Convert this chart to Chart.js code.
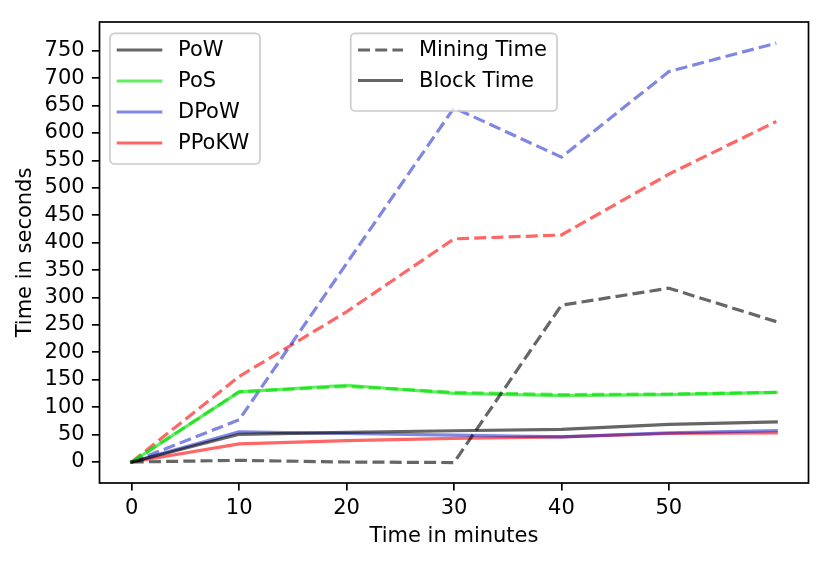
<!DOCTYPE html>
<html><head><meta charset="utf-8">
<script src="https://cdn.jsdelivr.net/npm/chart.js@4"></script>
<style>html,body{margin:0;padding:0;background:#fff}#wrap{width:831px;height:563px;position:relative}</style>
</head><body><div id="wrap"><canvas id="c" width="831" height="563"></canvas></div>
<script>
// ---- data ----
const xValues = [0, 10, 20, 30, 40, 50, 60];
const xTickValues = [0, 10, 20, 30, 40, 50];
const yTickValues = [0, 50, 100, 150, 200, 250, 300, 350, 400, 450, 500, 550, 600, 650, 700, 750];
const seriesNames = ['PoW', 'PoS', 'DPoW', 'PPoKW'];
const styleNames = ['Mining Time', 'Block Time'];
const powMining   = [0, 3, 0, -1, 286, 317, 256];
const powBlock    = [0, 50.5, 54, 57, 59.6, 68.7, 73];
const posMining   = [0, 128, 138, 127, 123, 124, 127];
const posBlock    = [0, 128, 140, 125, 121, 123, 127];
const dpowMining  = [0, 77, 362, 646, 556, 712, 764];
const dpowBlock   = [0, 55, 52, 49, 46, 53, 57];
const ppokwMining = [0, 156, 274, 407, 414, 525, 621];
const ppokwBlock  = [0, 33, 39, 43, 46, 52, 53];
const xTitle = 'Time in minutes';
const yTitle = 'Time in seconds';

// ---- styles ----
const FONT = '"DejaVu Sans", sans-serif';
const FS = 21;
const colors = ['rgba(0,0,0,0.6)', 'rgba(0,225,0,0.62)', 'rgba(0,15,200,0.5)', 'rgba(255,0,0,0.6)'];
const DASH = [12, 5.2];
const LW = 3.2;

const mining = [powMining, posMining, dpowMining, ppokwMining];
const block = [powBlock, posBlock, dpowBlock, ppokwBlock];
const toPts = arr => arr.map((v, i) => ({x: xValues[i], y: v}));

const datasets = [];
seriesNames.forEach((n, i) => {
  datasets.push({label: n + ' ' + styleNames[0], data: toPts(mining[i]), borderColor: colors[i],
    borderWidth: LW, borderDash: DASH, borderCapStyle: 'butt', borderJoinStyle: 'round', pointRadius: 0, tension: 0, fill: false});
  datasets.push({label: n + ' ' + styleNames[1], data: toPts(block[i]), borderColor: colors[i],
    borderWidth: LW, borderCapStyle: 'square', borderJoinStyle: 'round', pointRadius: 0, tension: 0, fill: false});
});

const frameAndLegend = {
  id: 'frameAndLegend',
  afterDatasetsDraw(chart) {
    const ctx = chart.ctx, a = chart.chartArea;
    ctx.save();
    ctx.strokeStyle = '#000'; ctx.lineWidth = 1.7;
    ctx.strokeRect(a.left, a.top, a.right - a.left, a.bottom - a.top);
    ctx.restore();
  },
  afterDraw(chart) {
    const ctx = chart.ctx, a = chart.chartArea;
    function box(x0, y0, x1, y1) {
      ctx.save(); ctx.beginPath(); ctx.roundRect(x0, y0, x1 - x0, y1 - y0, 4.5);
      ctx.fillStyle = 'rgba(255,255,255,0.8)'; ctx.fill();
      ctx.strokeStyle = '#cccccc'; ctx.lineWidth = 1.7; ctx.stroke(); ctx.restore();
    }
    function seg(x0, x1, y, col, dash) {
      ctx.save(); ctx.beginPath(); ctx.setLineDash(dash); ctx.lineCap = dash.length ? 'butt' : 'butt';
      ctx.moveTo(x0, y); ctx.lineTo(x1, y); ctx.strokeStyle = col; ctx.lineWidth = LW; ctx.stroke(); ctx.restore();
    }
    function txt(s, x, y) {
      ctx.save(); ctx.font = FS + 'px ' + FONT; ctx.fillStyle = '#000';
      ctx.textBaseline = 'middle'; ctx.textAlign = 'left'; ctx.fillText(s, x, y); ctx.restore();
    }
    const L = a.left, T = a.top;
    box(L + 10.5, T + 11.3, L + 160.5, T + 142);
    seriesNames.forEach((n, i) => {
      const y = T + 28 + i * 31;
      seg(L + 17.2, L + 62.8, y, colors[i], []);
      txt(n, L + 78.5, y + 1);
    });
    box(L + 251.2, T + 11.3, L + 457.5, T + 89);
    styleNames.forEach((n, i) => {
      const y = T + 28 + i * 30.5;
      seg(L + 258.5, L + 303.5, y, colors[0], i === 0 ? DASH : []);
      txt(n, L + 319.5, y + 1);
    });
  }
};

new Chart(document.getElementById('c'), {
  type: 'line',
  data: {datasets},
  options: {
    responsive: false, animation: false, devicePixelRatio: 1,
    layout: {padding: {top: 22, right: 22.5, left: 0, bottom: 0}},
    plugins: {legend: {display: false}, tooltip: {enabled: false}},
    scales: {
      x: {
        type: 'linear', min: -3, max: 63,
        afterBuildTicks: s => { s.ticks = xTickValues.map(v => ({value: v})); },
        afterFit: s => { s.height = 80; },
        grid: {drawOnChartArea: false, drawTicks: true, tickLength: 7.6, tickWidth: 1.7, lineWidth: 1.7, tickColor: '#000', color: '#000'},
        border: {display: false},
        ticks: {color: '#000', font: {family: FONT, size: FS}, padding: 5, maxRotation: 0, autoSkip: false},
        title: {display: true, text: xTitle, color: '#000', font: {family: FONT, size: FS}, padding: {top: 0, bottom: 14}}
      },
      y: {
        type: 'linear', min: -38.3, max: 802.5,
        afterBuildTicks: s => { s.ticks = yTickValues.map(v => ({value: v})); },
        afterFit: s => { s.width = 99.5; },
        grid: {drawOnChartArea: false, drawTicks: true, tickLength: 7.6, tickWidth: 1.7, lineWidth: 1.7, tickColor: '#000', color: '#000'},
        border: {display: false},
        ticks: {color: '#000', font: {family: FONT, size: FS}, padding: 7.3, autoSkip: false},
        title: {display: true, text: yTitle, color: '#000', font: {family: FONT, size: FS}, padding: {top: 13, bottom: 0}}
      }
    }
  },
  plugins: [frameAndLegend]
});
</script>
</body></html>
